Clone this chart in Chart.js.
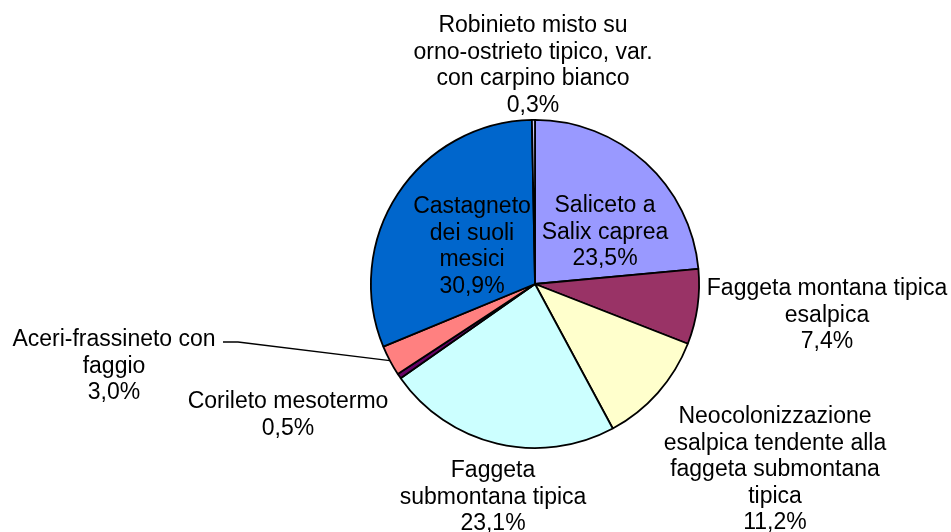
<!DOCTYPE html>
<html>
<head>
<meta charset="utf-8">
<script src="https://cdn.jsdelivr.net/npm/chart.js@4/dist/chart.umd.min.js"></script>
<style>
  html, body { margin: 0; padding: 0; background: #ffffff; }
  #wrap { width: 951px; height: 532px; position: relative; }
</style>
</head>
<body>
<div id="wrap"><canvas id="pie" width="951" height="532"></canvas></div>
<script>
// Forest types (line breaks mark where each caption wraps)
const categories = [
  "Saliceto a\nSalix caprea",
  "Faggeta montana tipica\nesalpica",
  "Neocolonizzazione\nesalpica tendente alla\nfaggeta submontana\ntipica",
  "Faggeta\nsubmontana tipica",
  "Corileto mesotermo",
  "Aceri-frassineto con\nfaggio",
  "Castagneto\ndei suoli\nmesici",
  "Robinieto misto su\norno-ostrieto tipico, var.\ncon carpino bianco"
];

// Share of surface, percent
const shares = [23.5, 7.4, 11.2, 23.1, 0.5, 3.0, 30.9, 0.3];

const sliceColors = ["#9999FF", "#993366", "#FFFFCC", "#CCFFFF", "#660066", "#FF8080", "#0066CC", "#CCCCFF"];

// Caption placement: offset of the first baseline from the pie centre, in pixels
const captionOffsets = [
  [70, -72], [292, 11], [240, 139], [-42, 193],
  [-247, 124], [-421, 62], [-63, -71], [-2, -252]
];
// Leader line start (relative to pie centre) for captions drawn away from their slice
const leaderStarts = { 5: [[-312, 58], [-297, 58]] };

const LINE_H = 26.5;
const FONT = '23px "Liberation Sans", Arial, sans-serif';

const captionPlugin = {
  id: 'captions',
  afterDatasetsDraw(chart) {
    const ctx = chart.ctx;
    const meta = chart.getDatasetMeta(0);
    ctx.save();
    meta.data.forEach((arc, i) => {
      const cx = arc.x, cy = arc.y;
      // leader line to the slice edge
      if (leaderStarts[i]) {
        const mid = (arc.startAngle + arc.endAngle) / 2;
        const ex = cx + Math.cos(mid) * arc.outerRadius;
        const ey = cy + Math.sin(mid) * arc.outerRadius;
        ctx.beginPath();
        ctx.strokeStyle = '#000';
        ctx.lineWidth = 1.4;
        const pts = leaderStarts[i];
        ctx.moveTo(cx + pts[0][0], cy + pts[0][1]);
        for (let k = 1; k < pts.length; k++) ctx.lineTo(cx + pts[k][0], cy + pts[k][1]);
        ctx.lineTo(ex, ey);
        ctx.stroke();
      }
      const lines = categories[i].split('\n');
      lines.push(shares[i].toFixed(1).replace('.', ',') + '%');
      ctx.font = FONT;
      ctx.fillStyle = '#000';
      ctx.textAlign = 'center';
      ctx.textBaseline = 'alphabetic';
      const [ox, oy] = captionOffsets[i];
      lines.forEach((t, k) => {
        ctx.fillText(t, cx + ox, cy + oy + k * LINE_H);
      });
    });
    ctx.restore();
  }
};

new Chart(document.getElementById('pie'), {
  type: 'pie',
  data: {
    labels: categories.map(c => c.replace(/\n/g, ' ')),
    datasets: [{
      data: shares,
      backgroundColor: sliceColors,
      borderColor: '#000000',
      borderWidth: 1.8
    }]
  },
  options: {
    responsive: false,
    animation: false,
    events: [],
    layout: { padding: { left: 370, right: 251, top: 119, bottom: 83 } },
    plugins: {
      legend: { display: false },
      tooltip: { enabled: false }
    }
  },
  plugins: [captionPlugin]
});
</script>
</body>
</html>
